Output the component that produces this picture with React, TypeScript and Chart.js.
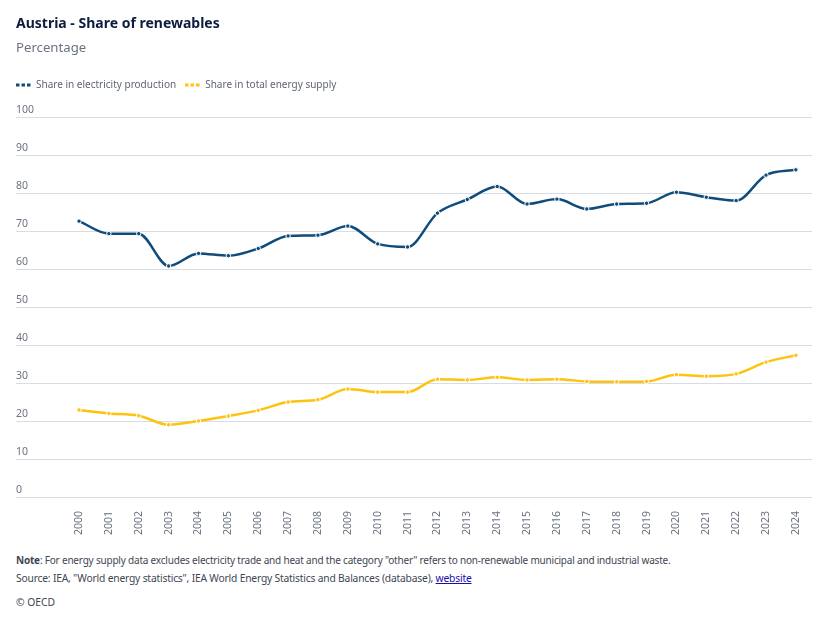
import React, { useEffect, useRef } from "react";
import { Chart, registerables } from "chart.js";

Chart.register(...registerables);

const years = [2000, 2001, 2002, 2003, 2004, 2005, 2006, 2007, 2008, 2009, 2010, 2011, 2012, 2013, 2014, 2015, 2016, 2017, 2018, 2019, 2020, 2021, 2022, 2023, 2024];
const electricityShare = [72.6, 69.3, 69.3, 60.8, 64.1, 63.5, 65.4, 68.7, 68.9, 71.3, 66.6, 65.8, 74.7, 78.3, 81.7, 77.1, 78.4, 75.8, 77.1, 77.3, 80.2, 78.9, 78.0, 84.7, 86.1];
const energySupplyShare = [22.9, 22.0, 21.4, 19.0, 20.0, 21.3, 22.8, 25.0, 25.6, 28.4, 27.6, 27.6, 31.0, 30.8, 31.5, 30.8, 31.0, 30.4, 30.3, 30.4, 32.2, 31.8, 32.4, 35.5, 37.3];
const yTicks = [0, 10, 20, 30, 40, 50, 60, 70, 80, 90, 100];
const seriesNames = ["Share in electricity production", "Share in total energy supply"];
const seriesColors = ["#0f4c7b", "#fdc30f"];

const FONT = "'Noto Sans', sans-serif";

function LegendMark({ color }: { color: string }) {
  return (
    <svg width="15" height="4" style={{ display: "inline-block", marginRight: 5, verticalAlign: "middle" }}>
      <rect x="0" y="0.5" width="3.5" height="3" fill={color} />
      <rect x="5.5" y="0.5" width="3.5" height="3" fill={color} />
      <rect x="11" y="0.5" width="3.5" height="3" fill={color} />
    </svg>
  );
}

export default function App() {
  const ref = useRef<HTMLCanvasElement>(null);

  useEffect(() => {
    if (!ref.current) return;
    const chart = new Chart(ref.current, {
      type: "line",
      data: {
        datasets: [
          {
            label: seriesNames[0],
            data: years.map((y, i) => ({ x: y, y: electricityShare[i] })),
            borderColor: seriesColors[0],
            backgroundColor: seriesColors[0],
            pointBackgroundColor: seriesColors[0],
            pointBorderColor: "#ffffff",
            pointBorderWidth: 1,
            pointRadius: 2.2,
            borderWidth: 2.5,
            cubicInterpolationMode: "monotone",
          },
          {
            label: seriesNames[1],
            data: years.map((y, i) => ({ x: y, y: energySupplyShare[i] })),
            borderColor: seriesColors[1],
            backgroundColor: seriesColors[1],
            pointBackgroundColor: seriesColors[1],
            pointBorderColor: "#ffffff",
            pointBorderWidth: 1,
            pointRadius: 2.2,
            borderWidth: 2.5,
            cubicInterpolationMode: "monotone",
          },
        ],
      },
      options: {
        animation: false,
        responsive: false,
        maintainAspectRatio: false,
        layout: { padding: { left: 16, right: 16, top: 117, bottom: 0 } },
        plugins: { legend: { display: false }, tooltip: { enabled: false } },
        scales: {
          x: {
            type: "linear",
            min: 1997.89,
            max: 2024.54,
            grid: { display: false },
            border: { display: false },
            afterBuildTicks: (scale: any) => {
              scale.ticks = years.map((v) => ({ value: v }));
            },
            afterFit: (scale: any) => {
              scale.height = 48;
            },
            ticks: {
              autoSkip: false,
              minRotation: 90,
              maxRotation: 90,
              padding: 6,
              color: "#6b7280",
              font: { family: FONT, size: 10.5 },
              callback: (v: any) => String(v),
            },
          },
          y: {
            min: 0,
            max: 100,
            afterBuildTicks: (scale: any) => {
              scale.ticks = yTicks.map((v) => ({ value: v }));
            },
            afterFit: (scale: any) => {
              scale.width = 0;
            },
            grid: { color: "#d8dce3", lineWidth: 1, drawTicks: false },
            border: { display: false },
            ticks: {
              mirror: true,
              padding: 0,
              labelOffset: -7,
              color: "#6b7280",
              font: { family: FONT, size: 10.5 },
            },
          },
        },
      },
    });
    return () => chart.destroy();
  }, []);

  return (
    <div style={{ position: "relative", width: 828, height: 622, margin: -8, fontFamily: FONT, background: "#fff" }}>
      <canvas ref={ref} width={828} height={545} style={{ position: "absolute", left: 0, top: 0, width: 828, height: 545 }} />
      <div style={{ position: "absolute", left: 16, top: 13, fontSize: 14, fontWeight: 700, color: "#0c1d3d" }}>
        Austria - Share of renewables
      </div>
      <div style={{ position: "absolute", left: 16, top: 38, fontSize: 13.2, color: "#6b7280" }}>Percentage</div>
      <div style={{ position: "absolute", left: 16, top: 77, fontSize: 10, color: "#5f6673", whiteSpace: "nowrap" }}>
        <LegendMark color={seriesColors[0]} />
        <span style={{ marginRight: 9 }}>{seriesNames[0]}</span>
        <LegendMark color={seriesColors[1]} />
        <span>{seriesNames[1]}</span>
      </div>
      <div style={{ position: "absolute", left: 16, top: 553, fontSize: 10, color: "#3f4654", whiteSpace: "nowrap", letterSpacing: -0.2 }}>
        <b>Note</b>: For energy supply data excludes electricity trade and heat and the category "other" refers to non-renewable municipal and industrial waste.
      </div>
      <div style={{ position: "absolute", left: 16, top: 571, fontSize: 10.3, color: "#3f4654", whiteSpace: "nowrap", letterSpacing: -0.2 }}>
        Source: IEA, "World energy statistics", IEA World Energy Statistics and Balances (database),{" "}
        <span style={{ color: "#1a0dab", textDecoration: "underline" }}>website</span>
      </div>
      <div style={{ position: "absolute", left: 16, top: 595, fontSize: 10.3, color: "#3f4654", whiteSpace: "nowrap" }}>© OECD</div>
    </div>
  );
}
